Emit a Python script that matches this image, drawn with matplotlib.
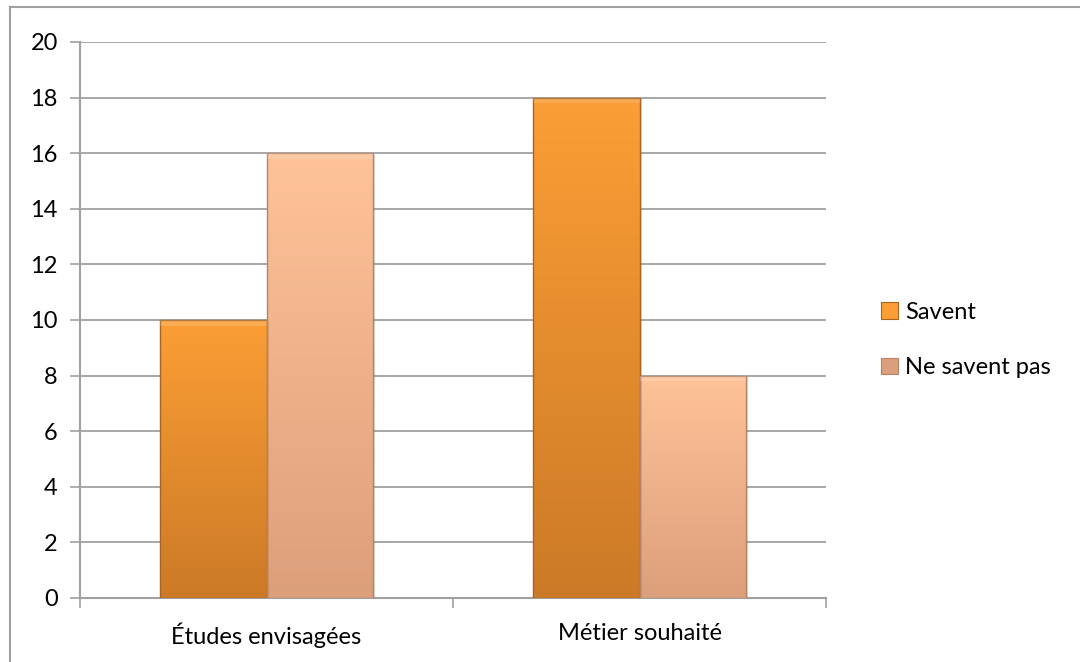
import numpy as np
import matplotlib
matplotlib.use("Agg")
import matplotlib.pyplot as plt
from matplotlib.patches import Rectangle
from matplotlib.colors import LinearSegmentedColormap

categories = ["Études envisagées", "Métier souhaité"]
series_names = ["Savent", "Ne savent pas"]
savent = [10, 18]
ne_savent_pas = [16, 8]
yticks = [0, 2, 4, 6, 8, 10, 12, 14, 16, 18, 20]

# top colour, bottom colour, edge colour per series
palettes = [
    ("#FB9E35", "#CC7A27", "#A86420"),
    ("#FFC399", "#DC9F7B", "#B88266"),
]

plt.rcParams["font.family"] = ["Lato", "DejaVu Sans"]

fig = plt.figure(figsize=(10.8, 6.62), dpi=100)
ax = fig.add_axes([80 / 1080, 64 / 662, 746 / 1080, 556 / 662])

# outer chart border (top and left visible)
fig.add_artist(plt.Line2D([10 / 1080, 1.0], [1 - 7 / 662, 1 - 7 / 662],
                          transform=fig.transFigure, color="#A0A0A0", lw=1.5))
fig.add_artist(plt.Line2D([10 / 1080, 10 / 1080], [0, 1 - 7 / 662],
                          transform=fig.transFigure, color="#A0A0A0", lw=1.5))

ax.set_xlim(0, 2)
ax.set_ylim(0, 20)
ax.set_yticks(yticks)
ax.set_xticks([0, 1, 2])
ax.set_xticklabels([])
ax.set_xticks([0.5, 1.5], minor=True)
ax.set_xticklabels(categories, minor=True)
ax.tick_params(axis="x", which="minor", length=0, pad=18, labelsize=17)
ax.tick_params(axis="x", which="major", length=7, color="#A0A0A0", width=1.2)
ax.tick_params(axis="y", length=7, color="#A0A0A0", width=1.2, pad=9, labelsize=17)
for s in ["top", "right"]:
    ax.spines[s].set_visible(False)
for s in ["left", "bottom"]:
    ax.spines[s].set_color("#A0A0A0")
    ax.spines[s].set_linewidth(1.5)
ax.yaxis.grid(True, color="#A0A0A0", lw=1.3)
ax.set_axisbelow(True)

bar_w = 0.285
data = [savent, ne_savent_pas]
legend_handles = []
for si, (vals, (ctop, cbot, cedge)) in enumerate(zip(data, palettes)):
    cmap = LinearSegmentedColormap.from_list(f"g{si}", [cbot, ctop])
    for ci, v in enumerate(vals):
        x0 = ci + 0.5 - bar_w + si * bar_w
        # soft shadow
        ax.add_patch(Rectangle((x0 + 0.006, -0.05), bar_w, v, color="#000000",
                               alpha=0.12, lw=0, zorder=2))
        grad = np.linspace(0, 1, 256).reshape(-1, 1)
        im = ax.imshow(grad, cmap=cmap, origin="lower", aspect="auto",
                       extent=(x0, x0 + bar_w, 0, v), zorder=3)
        rect = Rectangle((x0, 0), bar_w, v, facecolor="none",
                         edgecolor=cedge, lw=1.0, zorder=4)
        ax.add_patch(rect)
        im.set_clip_path(rect)
        # light bevel at top
        ax.add_patch(Rectangle((x0, v - 0.2), bar_w, 0.2, facecolor="white",
                               alpha=0.15, lw=0, zorder=4))
    legend_handles.append(Rectangle((0, 0), 1, 1, facecolor=(ctop if si == 0 else cbot),
                                    edgecolor=cedge, lw=0.8))

ax.set_xlim(0, 2)
ax.set_ylim(0, 20)

fig.legend(legend_handles, series_names, loc="center left",
           bbox_to_anchor=(860 / 1080, 1 - 340 / 662), frameon=False,
           fontsize=17, handlelength=0.7, handleheight=0.7,
           handletextpad=0.3, labelspacing=1.45)

fig.savefig("out.png", dpi=100, facecolor="white")
